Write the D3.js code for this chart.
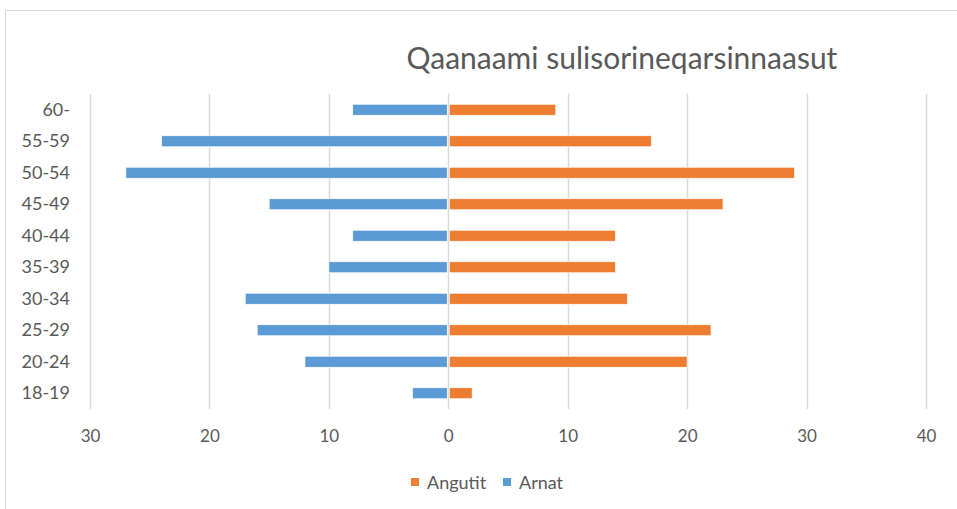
<!DOCTYPE html>
<html>
<head>
<meta charset="utf-8">
<script src="https://cdn.jsdelivr.net/npm/d3@7"></script>
<style>
  body { margin: 0; background: #fff; }
  text { font-family: Lato, "Open Sans", sans-serif; fill: #595959; }
</style>
</head>
<body>
<div id="chart"></div>
<script>
const ageGroups = ["60-", "55-59", "50-54", "45-49", "40-44", "35-39", "30-34", "25-29", "20-24", "18-19"];
const angutit = [9, 17, 29, 23, 14, 14, 15, 22, 20, 2];
const arnat = [8, 24, 27, 15, 8, 10, 17, 16, 12, 3];
const xTicks = [-30, -20, -10, 0, 10, 20, 30, 40];

const COLORS = { angutit: "#ED7D31", arnat: "#5B9BD5", grid: "#D9D9D9" };
const W = 957, H = 509;
const PLOT = { left: 90, right: 926, top: 94, bottom: 409 };

const svg = d3.select("#chart").append("svg").attr("width", W).attr("height", H);

// chart frame
svg.append("rect")
  .attr("x", 5.5).attr("y", 10.5)
  .attr("width", W + 20).attr("height", H + 20)
  .attr("fill", "none").attr("stroke", COLORS.grid).attr("stroke-width", 1);

svg.append("text")
  .attr("x", 622).attr("y", 69)
  .attr("text-anchor", "middle")
  .style("font-size", "30px")
  .text("Qaanaami sulisorineqarsinnaasut");

const x = d3.scaleLinear().domain([-30, 40]).range([PLOT.left, PLOT.right]);
const y = d3.scaleBand().domain(ageGroups).range([PLOT.top, PLOT.bottom]).paddingInner(0.65).paddingOuter(0.325);

// gridlines
svg.append("g")
  .selectAll("line")
  .data(xTicks)
  .enter()
  .append("line")
  .attr("x1", (d) => Math.round(x(d)) + 0.5)
  .attr("x2", (d) => Math.round(x(d)) + 0.5)
  .attr("y1", PLOT.top)
  .attr("y2", PLOT.bottom)
  .attr("stroke", COLORS.grid)
  .attr("stroke-width", 1.5);

const rows = ageGroups.map((g, i) => ({ group: g, angutit: angutit[i], arnat: arnat[i] }));

svg.append("g")
  .selectAll("rect")
  .data(rows)
  .enter()
  .append("rect")
  .attr("x", (d) => x(-d.arnat))
  .attr("y", (d) => y(d.group))
  .attr("width", (d) => x(0) - x(-d.arnat) - 1)
  .attr("height", y.bandwidth())
  .attr("fill", COLORS.arnat)
  .attr("stroke", "#fff").attr("stroke-width", 0.7);

svg.append("g")
  .selectAll("rect")
  .data(rows)
  .enter()
  .append("rect")
  .attr("x", x(0) + 1)
  .attr("y", (d) => y(d.group))
  .attr("width", (d) => x(d.angutit) - x(0) - 1)
  .attr("height", y.bandwidth())
  .attr("fill", COLORS.angutit)
  .attr("stroke", "#fff").attr("stroke-width", 0.7);

// category labels
const yAxis = svg.append("g")
  .attr("transform", `translate(${PLOT.left - 20},0)`)
  .call(d3.axisLeft(y).tickSize(0).tickPadding(0));
yAxis.select(".domain").remove();
yAxis.selectAll("text").style("font-size", "18px").attr("fill", "#595959");

// value labels
const xAxis = svg.append("g")
  .attr("transform", `translate(0,${PLOT.bottom + 18})`)
  .call(d3.axisBottom(x).tickValues(xTicks).tickSize(0).tickFormat((d) => Math.abs(d)));
xAxis.select(".domain").remove();
xAxis.selectAll("text").style("font-size", "17px").attr("fill", "#595959");

// legend
const legendItems = [
  { name: "Angutit", color: COLORS.angutit, x: 411 },
  { name: "Arnat", color: COLORS.arnat, x: 503 },
];
const legend = svg.append("g")
  .selectAll("g")
  .data(legendItems)
  .enter()
  .append("g")
  .attr("transform", (d) => `translate(${d.x},476)`);
legend.append("rect").attr("width", 8).attr("height", 8).attr("y", 2).attr("fill", (d) => d.color);
legend.append("text").attr("x", 16).attr("y", 13).style("font-size", "18px").text((d) => d.name);
</script>
</body>
</html>
